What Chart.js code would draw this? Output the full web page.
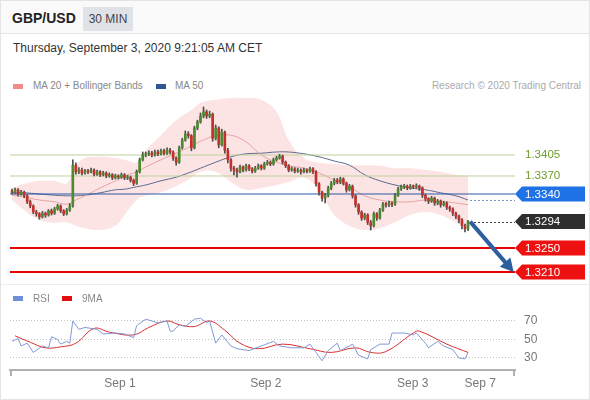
<!DOCTYPE html>
<html>
<head>
<meta charset="utf-8">
<script src="https://cdn.jsdelivr.net/npm/chart.js@4.4.1/dist/chart.umd.min.js"></script>
<style>
  body { margin: 0; width: 590px; height: 400px; position: relative; overflow: hidden; background: #fff;
         font-family: "Liberation Sans", Arial, sans-serif; }
  .abs { position: absolute; white-space: nowrap; }
  #frame { left: 0; top: 0; width: 588px; height: 398px; border: 1px solid #e4e4e4; }
  #head { left: 1px; top: 1px; width: 588px; height: 32px; background: #fafafa; border-bottom: 1px solid #e6e6e6; }
  #pair { left: 12px; top: 10px; font-size: 14px; font-weight: bold; color: #222; }
  #tf { left: 83px; top: 7px; width: 50px; height: 24px; line-height: 24px; text-align: center;
        background: #dfe2e7; font-size: 12px; color: #444; }
  #date { left: 13px; top: 41px; font-size: 12px; color: #333; }
  .leg { font-size: 10px; color: #888; }
  .sw { position: absolute; width: 10px; height: 5px; }
  #sep { left: 1px; top: 284px; width: 588px; height: 1px; background: #ececec; }
  canvas { position: absolute; left: 0; }
</style>
</head>
<body>
<div class="abs" id="frame"></div>
<div class="abs" id="head"></div>
<div class="abs" id="pair">GBP/USD</div>
<div class="abs" id="tf">30 MIN</div>
<div class="abs" id="date">Thursday, September 3, 2020 9:21:05 AM CET</div>

<div class="sw" style="left:13px;top:84px;background:#f08c8c"></div>
<div class="abs leg" style="left:33px;top:80px">MA 20 + Bollinger Bands</div>
<div class="sw" style="left:156px;top:84px;background:#2f5597"></div>
<div class="abs leg" style="left:175px;top:80px">MA 50</div>
<div class="abs leg" style="right:9px;top:80px;color:#aaa">Research © 2020 Trading Central</div>

<canvas id="price" width="590" height="190" style="top:95px"></canvas>
<div class="abs" id="sep"></div>
<canvas id="rsi" width="590" height="113" style="top:285px"></canvas>

<div class="sw" style="left:13px;top:296px;background:#6f8fd8"></div>
<div class="abs leg" style="left:33px;top:293px">RSI</div>
<div class="sw" style="left:62px;top:296px;background:#e01010"></div>
<div class="abs leg" style="left:82px;top:293px">9MA</div>

<script>
// 30 min candles, [open, high, low, close]
var candles = [
  [1.3345,1.3348,1.3340,1.3343],[1.3343,1.3350,1.3341,1.3347],[1.3347,1.3349,1.3337,1.3340],[1.3340,1.3346,1.3338,1.3343],
  [1.3343,1.3345,1.3334,1.3337],[1.3337,1.3339,1.3324,1.3327],[1.3327,1.3330,1.3317,1.3320],[1.3320,1.3322,1.3307,1.3310],
  [1.3310,1.3313,1.3303,1.3307],[1.3307,1.3309,1.3298,1.3302],[1.3302,1.3311,1.3300,1.3308],[1.3308,1.3310,1.3301,1.3305],
  [1.3305,1.3314,1.3303,1.3312],[1.3312,1.3315,1.3305,1.3308],[1.3308,1.3318,1.3306,1.3315],[1.3315,1.3323,1.3313,1.3320],
  [1.3320,1.3322,1.3309,1.3312],[1.3312,1.3314,1.3304,1.3307],[1.3307,1.3316,1.3305,1.3313],[1.3313,1.3324,1.3311,1.3320],
  [1.3320,1.3397,1.3318,1.3388],[1.3388,1.3392,1.3373,1.3377],[1.3377,1.3384,1.3374,1.3380],[1.3380,1.3383,1.3372,1.3375],
  [1.3375,1.3381,1.3373,1.3378],[1.3378,1.3381,1.3374,1.3377],[1.3377,1.3383,1.3375,1.3380],[1.3380,1.3382,1.3370,1.3373],
  [1.3373,1.3380,1.3371,1.3377],[1.3377,1.3379,1.3369,1.3372],[1.3372,1.3378,1.3370,1.3375],[1.3375,1.3377,1.3367,1.3370],
  [1.3370,1.3375,1.3368,1.3372],[1.3372,1.3374,1.3364,1.3367],[1.3367,1.3373,1.3365,1.3370],[1.3370,1.3372,1.3365,1.3368],
  [1.3368,1.3375,1.3366,1.3372],[1.3372,1.3374,1.3364,1.3367],[1.3367,1.3371,1.3364,1.3368],[1.3368,1.3370,1.3360,1.3363],
  [1.3363,1.3365,1.3354,1.3358],[1.3358,1.3380,1.3356,1.3377],[1.3377,1.3400,1.3375,1.3397],[1.3397,1.3410,1.3395,1.3405],
  [1.3405,1.3410,1.3402,1.3407],[1.3407,1.3412,1.3404,1.3408],[1.3408,1.3411,1.3402,1.3405],[1.3405,1.3413,1.3403,1.3410],
  [1.3410,1.3413,1.3404,1.3407],[1.3407,1.3415,1.3405,1.3412],[1.3412,1.3415,1.3405,1.3408],[1.3408,1.3417,1.3406,1.3413],
  [1.3413,1.3416,1.3407,1.3410],[1.3410,1.3412,1.3396,1.3400],[1.3400,1.3402,1.3388,1.3393],[1.3393,1.3420,1.3391,1.3417],
  [1.3417,1.3433,1.3415,1.3430],[1.3430,1.3445,1.3428,1.3440],[1.3440,1.3444,1.3433,1.3437],[1.3437,1.3439,1.3412,1.3417],
  [1.3417,1.3453,1.3415,1.3450],[1.3450,1.3463,1.3447,1.3460],[1.3460,1.3475,1.3458,1.3470],[1.3470,1.3485,1.3467,1.3477],
  [1.3477,1.3480,1.3466,1.3470],[1.3470,1.3478,1.3467,1.3473],[1.3473,1.3475,1.3428,1.3433],[1.3433,1.3455,1.3430,1.3450],
  [1.3450,1.3452,1.3417,1.3422],[1.3422,1.3448,1.3420,1.3443],[1.3443,1.3445,1.3408,1.3413],[1.3413,1.3416,1.3392,1.3397],
  [1.3397,1.3399,1.3378,1.3383],[1.3383,1.3386,1.3372,1.3380],[1.3380,1.3383,1.3368,1.3377],[1.3377,1.3388,1.3375,1.3385],
  [1.3385,1.3387,1.3377,1.3380],[1.3380,1.3390,1.3378,1.3387],[1.3387,1.3389,1.3379,1.3382],[1.3382,1.3384,1.3375,1.3378],
  [1.3378,1.3386,1.3376,1.3383],[1.3383,1.3390,1.3381,1.3387],[1.3387,1.3389,1.3380,1.3383],[1.3383,1.3393,1.3381,1.3390],
  [1.3390,1.3396,1.3388,1.3393],[1.3393,1.3395,1.3387,1.3390],[1.3390,1.3400,1.3388,1.3397],[1.3397,1.3403,1.3395,1.3400],
  [1.3400,1.3406,1.3398,1.3403],[1.3403,1.3405,1.3390,1.3393],[1.3393,1.3395,1.3384,1.3387],[1.3387,1.3389,1.3377,1.3380],
  [1.3380,1.3385,1.3378,1.3382],[1.3382,1.3384,1.3375,1.3378],[1.3378,1.3383,1.3376,1.3380],[1.3380,1.3382,1.3373,1.3377],
  [1.3377,1.3383,1.3375,1.3380],[1.3380,1.3382,1.3375,1.3378],[1.3378,1.3385,1.3376,1.3382],[1.3382,1.3384,1.3374,1.3377],
  [1.3377,1.3379,1.3353,1.3357],[1.3357,1.3359,1.3338,1.3343],[1.3343,1.3345,1.3328,1.3333],[1.3333,1.3341,1.3325,1.3338],
  [1.3338,1.3353,1.3335,1.3350],[1.3350,1.3361,1.3347,1.3358],[1.3358,1.3366,1.3355,1.3363],[1.3363,1.3366,1.3357,1.3360],
  [1.3360,1.3368,1.3357,1.3365],[1.3365,1.3367,1.3355,1.3358],[1.3358,1.3360,1.3343,1.3347],[1.3347,1.3356,1.3345,1.3353],
  [1.3353,1.3355,1.3333,1.3337],[1.3337,1.3339,1.3318,1.3322],[1.3322,1.3324,1.3306,1.3310],[1.3310,1.3312,1.3296,1.3300],
  [1.3300,1.3308,1.3297,1.3305],[1.3305,1.3307,1.3289,1.3293],[1.3293,1.3296,1.3280,1.3287],[1.3287,1.3310,1.3285,1.3307],
  [1.3307,1.3309,1.3296,1.3300],[1.3300,1.3316,1.3298,1.3313],[1.3313,1.3326,1.3311,1.3323],[1.3323,1.3326,1.3318,1.3322],
  [1.3322,1.3328,1.3319,1.3325],[1.3325,1.3327,1.3319,1.3323],[1.3323,1.3341,1.3321,1.3338],[1.3338,1.3351,1.3336,1.3348],
  [1.3348,1.3355,1.3346,1.3352],[1.3352,1.3356,1.3349,1.3353],[1.3353,1.3355,1.3347,1.3350],[1.3350,1.3356,1.3348,1.3353],
  [1.3353,1.3355,1.3349,1.3352],[1.3352,1.3357,1.3350,1.3353],[1.3353,1.3355,1.3346,1.3350],[1.3350,1.3352,1.3334,1.3338],
  [1.3338,1.3340,1.3328,1.3332],[1.3332,1.3334,1.3324,1.3328],[1.3328,1.3336,1.3326,1.3333],[1.3333,1.3335,1.3321,1.3325],
  [1.3325,1.3331,1.3322,1.3328],[1.3328,1.3330,1.3318,1.3322],[1.3322,1.3328,1.3320,1.3325],[1.3325,1.3327,1.3314,1.3318],
  [1.3318,1.3320,1.3311,1.3315],[1.3315,1.3317,1.3304,1.3308],[1.3308,1.3310,1.3299,1.3303],[1.3303,1.3305,1.3292,1.3297],
  [1.3297,1.3299,1.3282,1.3287],[1.3287,1.3290,1.3277,1.3282],[1.3282,1.3296,1.3279,1.3294]
];

// indicator samples (candle index -> value)
var bandIdx   = [0,4,9,14,18,21,24,29,34,37,41,44,49,54,59,62,67,72,77,82,87,91,96,101,106,111,116,121,126,131,136,141,146,150];
var bandUpper = [1.3350,1.3357,1.3362,1.3362,1.3358,1.3388,1.3400,1.3402,1.3400,1.3397,1.3393,1.3413,1.3438,1.3463,1.3480,1.3492,1.3497,
                 1.3500,1.3500,1.3497,1.3477,1.3430,1.3400,1.3392,1.3390,1.3388,1.3388,1.3387,1.3383,1.3383,1.3380,1.3377,1.3372,1.3370];
var bandLower = [1.3330,1.3313,1.3297,1.3292,1.3293,1.3287,1.3283,1.3280,1.3287,1.3305,1.3330,1.3337,1.3343,1.3353,1.3367,1.3377,1.3377,
                 1.3360,1.3347,1.3350,1.3355,1.3360,1.3367,1.3347,1.3305,1.3287,1.3280,1.3283,1.3293,1.3305,1.3310,1.3305,1.3293,1.3287];
var ma20      = [1.3338,1.3335,1.3330,1.3327,1.3323,1.3330,1.3337,1.3350,1.3362,1.3370,1.3377,1.3385,1.3397,1.3408,1.3420,1.3428,1.3437,
                 1.3438,1.3427,1.3405,1.3393,1.3387,1.3383,1.3375,1.3363,1.3352,1.3337,1.3330,1.3327,1.3327,1.3330,1.3328,1.3325,1.3322];
var ma50      = [1.3342,1.3342,1.3340,1.3338,1.3337,1.3337,1.3338,1.3342,1.3347,1.3348,1.3352,1.3355,1.3362,1.3368,1.3377,1.3383,1.3393,
                 1.3402,1.3407,1.3408,1.3410,1.3410,1.3407,1.3402,1.3395,1.3388,1.3372,1.3362,1.3355,1.3350,1.3347,1.3342,1.3337,1.3330];

var resistances = [1.3405, 1.3370];
var pivot = 1.3340;
var lastPrice = 1.3294;
var supports = [1.3250, 1.3210];

var rsiIdx  = [0,2,3,5,7,10,12,13,15,16,18,19,20,22,24,28,30,34,37,40,41,44,46,48,51,52,53,55,57,60,62,64,65,67,69,72,74,78,82,86,88,
               92,96,98,100,102,104,107,108,111,112,114,117,118,121,124,125,129,132,133,136,137,140,142,145,147,149,150];
var rsiVals = [48,51,43,46,36,43,41,53,50,45,48,46,70,61,63,61,56,57,56,52,65,72,70,68,70,59,59,66,64,72,73,68,70,46,55,43,40,38,43,48,43,
               41,41,45,36,27,38,46,38,43,45,33,29,39,45,45,57,57,55,57,46,41,48,43,39,30,29,36];
var ma9Idx  = [1,6,11,16,21,27,32,40,45,51,55,60,65,70,75,81,89,98,105,113,118,123,132,134,143,150];
var ma9Vals = [54,47,41,42,46,62,58,55,63,70,66,64,70,60,46,40,45,40,36,41,36,37,57,59,45,36];
var rsiLevels = [30, 50, 70];

var dayTicks  = [35.5, 83.5, 131.8, 154];
var dayLabels = ['Sep 1', 'Sep 2', 'Sep 3', 'Sep 7'];

var X_MIN = -0.66, X_MAX = 165.45;
var UP = '#4b8a2e', DOWN = '#c4302b';

Chart.defaults.font.family = '"Liberation Sans", Arial, sans-serif';

function xy(idx, vals) { return idx.map(function (x, k) { return { x: x, y: vals[k] }; }); }
function flat(v) { return [{ x: X_MIN, y: v }, { x: X_MAX, y: v }]; }
function hline(v, color, w) {
    return { type: 'line', data: flat(v), borderColor: color, borderWidth: w, pointRadius: 0, order: 3 };
}

// tags on the right, dotted extensions and the forecast arrow
var overlay = {
    id: 'overlay',
    afterDatasetsDraw: function (chart) {
        var ctx = chart.ctx, xs = chart.scales.x, ys = chart.scales.y, area = chart.chartArea;
        var lastX = xs.getPixelForValue(candles.length - 1) + 2;

        ctx.save();
        ctx.setLineDash([2, 2]);
        ctx.lineWidth = 1;
        ctx.strokeStyle = '#7d92c9';
        var y50 = Math.round(ys.getPixelForValue(ma50[ma50.length - 1])) + 0.5;
        ctx.beginPath(); ctx.moveTo(lastX, y50); ctx.lineTo(area.right, y50); ctx.stroke();
        ctx.strokeStyle = '#444';
        var yl = Math.round(ys.getPixelForValue(lastPrice)) + 0.5;
        ctx.beginPath(); ctx.moveTo(lastX, yl); ctx.lineTo(area.right, yl); ctx.stroke();
        ctx.setLineDash([]);

        // arrow
        var x1 = xs.getPixelForValue(150.7), y1 = ys.getPixelForValue(lastPrice);
        var x2 = xs.getPixelForValue(165), y2 = ys.getPixelForValue(supports[1]);
        var ang = Math.atan2(y2 - y1, x2 - x1), head = 13;
        ctx.strokeStyle = '#2d5f9e'; ctx.fillStyle = '#2d5f9e'; ctx.lineWidth = 4;
        ctx.beginPath(); ctx.moveTo(x1, y1);
        ctx.lineTo(x2 - head * 0.8 * Math.cos(ang), y2 - head * 0.8 * Math.sin(ang)); ctx.stroke();
        ctx.beginPath(); ctx.moveTo(x2, y2);
        ctx.lineTo(x2 - head * Math.cos(ang) + 7 * Math.sin(ang), y2 - head * Math.sin(ang) - 7 * Math.cos(ang));
        ctx.lineTo(x2 - head * Math.cos(ang) - 7 * Math.sin(ang), y2 - head * Math.sin(ang) + 7 * Math.cos(ang));
        ctx.closePath(); ctx.fill();

        // labels
        ctx.font = '11.5px "Liberation Sans", Arial, sans-serif';
        ctx.textBaseline = 'middle';
        resistances.forEach(function (v) {
            ctx.fillStyle = '#6f9a2c';
            ctx.fillText(v.toFixed(4), area.right + 10, ys.getPixelForValue(v));
        });
        var tags = [[pivot, '#1f72e6'], [lastPrice, '#2e2e2e'], [supports[0], '#ee1111'], [supports[1], '#ee1111']];
        tags.forEach(function (t) {
            var y = ys.getPixelForValue(t[0]), l = area.right;
            ctx.fillStyle = t[1];
            ctx.beginPath();
            ctx.moveTo(l, y); ctx.lineTo(l + 7, y - 7.5); ctx.lineTo(585, y - 7.5);
            ctx.lineTo(585, y + 7.5); ctx.lineTo(l + 7, y + 7.5); ctx.closePath(); ctx.fill();
            ctx.fillStyle = '#fff';
            ctx.fillText(t[0].toFixed(4), l + 10, y + 0.5);
        });
        ctx.restore();
    }
};

new Chart(document.getElementById('price'), {
    type: 'bar',
    data: {
        datasets: [
            { type: 'line', data: xy(bandIdx, bandUpper), borderWidth: 0, pointRadius: 0, tension: 0.4,
              fill: '+1', backgroundColor: 'rgba(251,205,205,0.55)', order: 10 },
            { type: 'line', data: xy(bandIdx, bandLower), borderWidth: 0, pointRadius: 0, tension: 0.4, order: 10 },
            hline(resistances[0], '#bcd39a', 1),
            hline(resistances[1], '#bcd39a', 1),
            hline(pivot, '#2a58a6', 1),
            hline(supports[0], '#e80000', 2),
            hline(supports[1], '#e80000', 2),
            { type: 'line', data: xy(bandIdx, ma20), borderColor: '#e6a2a2', borderWidth: 1, pointRadius: 0, tension: 0.4, order: 4 },
            { type: 'line', data: xy(bandIdx, ma50), borderColor: '#5b6a8e', borderWidth: 1, pointRadius: 0, tension: 0.4, order: 4 },
            { type: 'bar', order: 2, grouped: false, barThickness: 1, backgroundColor: '#4d4d4d',
              data: candles.map(function (c, i) { return { x: i, y: [c[2], c[1]] }; }) },
            { type: 'bar', order: 1, grouped: false, barThickness: 2, minBarLength: 1,
              backgroundColor: candles.map(function (c) { return c[3] >= c[0] ? UP : DOWN; }),
              data: candles.map(function (c, i) { return { x: i, y: [Math.min(c[0], c[3]), Math.max(c[0], c[3])] }; }) }
        ]
    },
    options: {
        responsive: false,
        animation: false,
        events: [],
        layout: { padding: { left: 10, right: 75, top: 0, bottom: 0 } },
        plugins: { legend: { display: false }, tooltip: { enabled: false } },
        scales: {
            x: { type: 'linear', min: X_MIN, max: X_MAX, offset: false, display: false },
            y: { min: 1.318833, max: 1.3505, display: false }
        }
    },
    plugins: [overlay]
});

var axisEnds = {
    id: 'axisEnds',
    afterDraw: function (chart) {
        var ctx = chart.ctx, a = chart.chartArea;
        ctx.save();
        ctx.strokeStyle = '#b0b0b0';
        ctx.lineWidth = 2;
        ctx.beginPath();
        ctx.moveTo(a.left + 1, a.bottom); ctx.lineTo(a.left + 1, a.bottom + 6);
        ctx.moveTo(a.right - 1, a.bottom); ctx.lineTo(a.right - 1, a.bottom + 6);
        ctx.stroke();
        ctx.restore();
    }
};

new Chart(document.getElementById('rsi'), {
    type: 'line',
    data: {
        datasets: [
            { data: xy(rsiIdx, rsiVals), borderColor: '#8199d6', borderWidth: 1, pointRadius: 0, tension: 0 },
            { data: xy(ma9Idx, ma9Vals), borderColor: '#d92f2f', borderWidth: 1, pointRadius: 0, tension: 0.4 }
        ]
    },
    options: {
        responsive: false,
        animation: false,
        events: [],
        layout: { padding: { left: 10, right: 0, top: 20, bottom: 0 } },
        plugins: { legend: { display: false }, tooltip: { enabled: false } },
        scales: {
            x: {
                type: 'linear', min: X_MIN, max: X_MAX,
                afterBuildTicks: function (s) { s.ticks = dayTicks.map(function (v) { return { value: v }; }); },
                afterFit: function (s) { s.height = 28; },
                grid: { display: false, drawTicks: false },
                border: { color: '#b0b0b0', width: 2 },
                ticks: { color: '#777', font: { size: 12 }, padding: 6, maxRotation: 0, autoSkip: false,
                         callback: function (v, i) { return dayLabels[i]; } }
            },
            y: {
                position: 'right', min: 17, max: 87.3,
                afterBuildTicks: function (s) { s.ticks = rsiLevels.map(function (v) { return { value: v }; }); },
                afterFit: function (s) { s.width = 75; },
                grid: { color: '#c4c4c4', drawTicks: false },
                border: { display: false, dash: [1, 2] },
                ticks: { color: '#777', font: { size: 12 }, padding: 9 }
            }
        }
    },
    plugins: [axisEnds]
});
</script>
</body>
</html>
